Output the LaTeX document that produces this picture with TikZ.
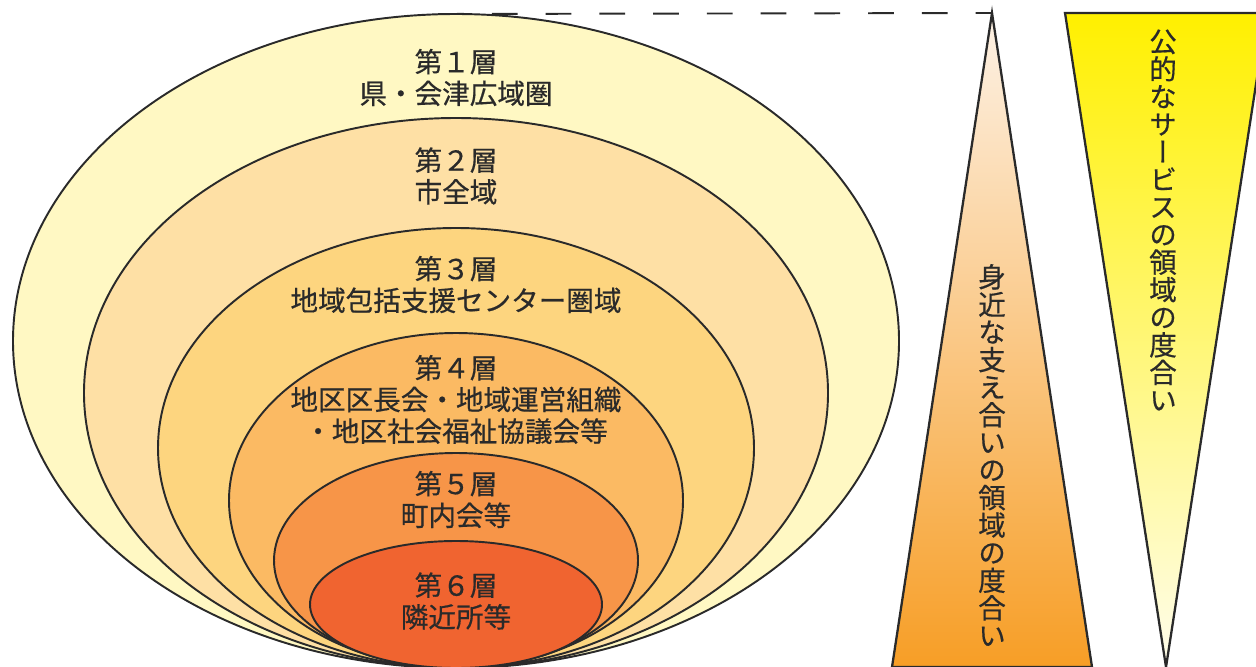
\documentclass[tikz,border=0pt]{standalone}
\usepackage{fontspec}
\setmainfont{Noto Sans CJK JP}[FakeBold=0.5]
\newfontfamily\tatefont[RawFeature=+vert, FakeBold=0.5]{Noto Sans CJK JP}
\usetikzlibrary{calc}
\definecolor{ink}{HTML}{2A2A2A}
\definecolor{lay1}{HTML}{FFF8C3}
\definecolor{lay2}{HTML}{FEE0A5}
\definecolor{lay3}{HTML}{FDD57F}
\definecolor{lay4}{HTML}{FBBA63}
\definecolor{lay5}{HTML}{F79548}
\definecolor{lay6}{HTML}{F06430}
\tikzstyle{layer}=[draw=ink, line width=1.1pt]
\tikzstyle{txt}=[text=ink, align=center, inner sep=0pt, font=\fontsize{15.7}{18}\selectfont]
\tikzstyle{tate}=[text=ink, align=center, inner sep=0pt, font=\tatefont\fontsize{15.7}{15.7}\selectfont]
\tikzstyle{wedge}=[draw=ink, line width=1.3pt, line join=miter]

\begin{document}
\begin{tikzpicture}[x=0.02cm, y=-0.02cm]
\useasboundingbox (0,0) rectangle (1256,666);
% layers, outside in
\draw [layer, fill=lay1] (456,341) ellipse (443 and 327);
\draw [layer, fill=lay2] (456,393) ellipse (372 and 275);
\draw [layer, fill=lay3] (456,448) ellipse (298 and 220);
\draw [layer, fill=lay4] (456,500.5) ellipse (227 and 167.5);
\draw [layer, fill=lay5] (456,560.5) ellipse (182 and 107.5);
\draw [layer, fill=lay6] (456,604.5) ellipse (146 and 63.5);
\node [txt] (l1) at (456,77.5) {第１層\\県・会津広域圏};
\node [txt] (l2) at (456,176) {第２層\\市全域};
\node [txt] (l3) at (456,284.5) {第３層\\地域包括支援センター圏域};
\node [txt] (l4) at (456,399.5) {第４層\\地区区長会・地域運営組織\\・地区社会福祉協議会等};
\node [txt] (l5) at (456,499.5) {第５層\\町内会等};
\node [txt] (l6) at (456,601) {第６層\\隣近所等};
% wedges
\coordinate (ua) at (992,13); \coordinate (ul) at (892,667); \coordinate (ur) at (1092,667);
\coordinate (dl) at (1065,13); \coordinate (dr) at (1267,13); \coordinate (da) at (1166,667);
\coordinate (top1) at (438,14);
\draw [ink, line width=1.1pt, dash pattern=on 14.7pt off 15.9pt] (top1) -- (ua);
\shade [top color={rgb,255:red,253;green,242;blue,230}, bottom color={rgb,255:red,247;green,158;blue,38}] (ua) -- (ul) -- (ur) -- cycle;
\draw [wedge] (ua) -- (ul) -- (ur) -- cycle;
\shade [top color={rgb,255:red,255;green,240;blue,0}, bottom color={rgb,255:red,255;green,253;blue,236}] (dl) -- (dr) -- (da) -- cycle;
\draw [wedge] (dl) -- (dr) -- (da) -- cycle;
\node [tate] (near) at (992,455) {身\\近\\な\\支\\え\\合\\い\\の\\領\\域\\の\\度\\合\\い};
\node [tate] (pub) at (1163,220) {公\\的\\な\\サ\\ー\\ビ\\ス\\の\\領\\域\\の\\度\\合\\い};
\end{tikzpicture}
\end{document}
